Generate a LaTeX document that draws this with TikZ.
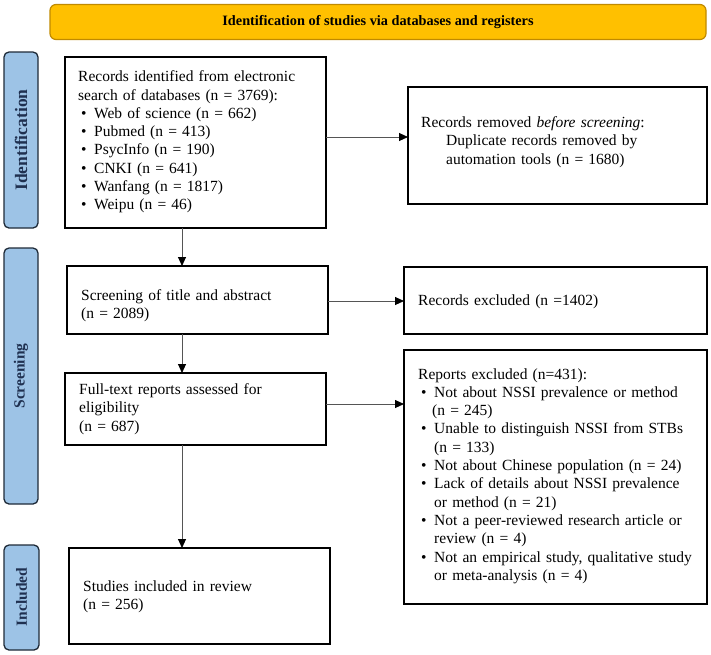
\documentclass[tikz,border=0pt]{standalone}
\usepackage{fontspec}
\setmainfont{Liberation Serif}
\usetikzlibrary{arrows.meta}
\definecolor{banfill}{HTML}{FFC000}
\definecolor{bandraw}{HTML}{C08A00}
\definecolor{sidefill}{HTML}{9DC3E6}
\definecolor{sidedraw}{HTML}{1E2A38}
\definecolor{sidetext}{HTML}{1F3050}
\definecolor{linegray}{HTML}{555555}
\newcommand{\bl}[1]{\par\hangindent=16pt\hangafter=1\hspace*{3pt}\makebox[13pt][l]{•}#1}
\tikzset{
  box/.style={draw=black, line width=1.2pt, inner sep=0pt, outer sep=0pt, anchor=north west},
  boxtext/.style={anchor=west, align=left, inner sep=0pt, font=\fontsize{15.5}{18.3}\selectfont},
  sidebar/.style={draw=sidedraw, fill=sidefill, line width=1.3pt, rounded corners=5pt},
  sidelabel/.style={rotate=90, font=\fontsize{15.5}{18}\selectfont\bfseries, text=sidetext},
  arr/.style={draw=linegray, line width=0.9pt, -{Triangle[length=9pt,width=8pt,fill=black,color=black]}},
}
\begin{document}
\begin{tikzpicture}[x=1pt,y=-1pt]
\useasboundingbox (0,0) rectangle (711,654);
% banner
\node[draw=bandraw, fill=banfill, line width=1.2pt, rounded corners=6pt, minimum width=656pt, minimum height=35pt, inner sep=0pt,
  font=\fontsize{14.3}{17}\selectfont\bfseries] (banner) at (378,22) {Identification of studies via databases and registers};
% side bars
\draw[sidebar] (4,52) rectangle (38,228);
\node[sidelabel, font=\fontsize{17.5}{20}\selectfont\bfseries] (sid) at (21,140) {Identification};
\draw[sidebar] (4,248) rectangle (38,504);
\node[sidelabel] (sscr) at (21,376) {Screening};
\draw[sidebar] (4,545) rectangle (39,650);
\node[sidelabel] (sinc) at (21.5,597) {Included};
% left boxes
\node[box, minimum width=261pt, minimum height=171pt] (b1) at (65,57) {};
\node[boxtext, text width=245pt] (t1) at (78,142) {Records identified from electronic\newline search of databases (n = 3769):
\bl{Web of science (n = 662)}\bl{Pubmed (n = 413)}\bl{PsycInfo (n = 190)}\bl{CNKI (n = 641)}\bl{Wanfang (n = 1817)}\bl{Weipu (n = 46)}\par};
\node[box, minimum width=261pt, minimum height=68pt] (b2) at (67,266) {};
\node[boxtext, text width=245pt] (t2) at (81,306) {Screening of title and abstract\newline (n = 2089)};
\node[box, minimum width=261pt, minimum height=72pt] (b3) at (65,373) {};
\node[boxtext, text width=245pt] (t3) at (79,409) {Full-text reports assessed for\newline eligibility\newline (n = 687)};
\node[box, minimum width=261pt, minimum height=96pt] (b4) at (69,548) {};
\node[boxtext, text width=245pt] (t4) at (83,597) {Studies included in review\newline (n = 256)};
% right boxes
\node[box, minimum width=299pt, minimum height=117pt] (r1) at (408,87) {};
\node[boxtext, text width=285pt] (tr1) at (421,142) {Records removed \textit{before screening}:\newline \hspace*{25pt}Duplicate records removed by\newline \hspace*{25pt}automation tools (n = 1680)};
\node[box, minimum width=303pt, minimum height=67pt] (r2) at (404,267) {};
\node[boxtext, text width=285pt] (tr2) at (418,302) {Records excluded (n =1402)};
\node[box, minimum width=303pt, minimum height=254pt] (r3) at (404,350) {};
\node[boxtext, text width=290pt] (tr3) at (418,476) {Reports excluded (n=431):
\bl{Not about NSSI prevalence or method\newline \hspace*{-2pt}(n = 245)}\bl{Unable to distinguish NSSI from STBs\newline (n = 133)}\bl{Not about Chinese population (n = 24)}\bl{Lack of details about NSSI prevalence\newline or method (n = 21)}\bl{Not a peer-reviewed research article or\newline review (n = 4)}\bl{Not an empirical study, qualitative study\newline or meta-analysis (n = 4)}\par};
% connectors
\coordinate (c1) at (182,228);
\draw[arr] (b1.south -| c1) -- (b2.north -| c1);
\draw[arr] (b2.south -| c1) -- (b3.north -| c1);
\draw[arr] (b3.south -| c1) -- (b4.north -| c1);
\draw[arr] (b1.east |- 0,137) -- (r1.west |- 0,137);
\draw[arr] (b2.east |- 0,301) -- (r2.west |- 0,301);
\draw[arr] (b3.east |- 0,404) -- (r3.west |- 0,404);
\end{tikzpicture}
\end{document}
